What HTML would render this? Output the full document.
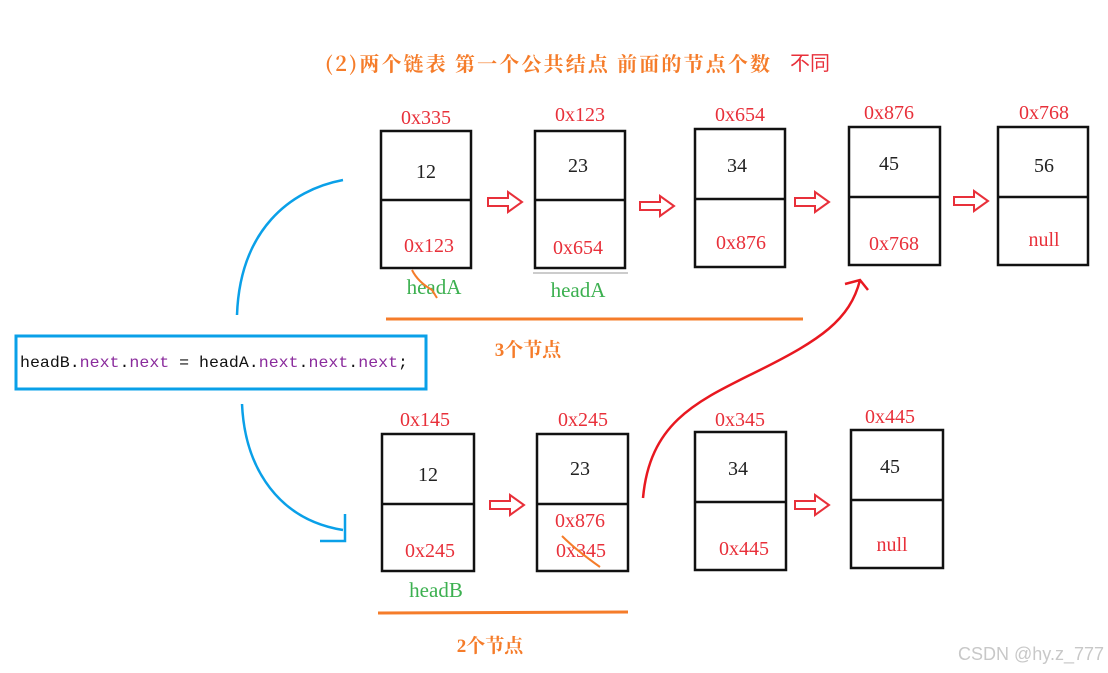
<!DOCTYPE html>
<html><head><meta charset="utf-8"><style>
body{margin:0;background:#fff}
svg{display:block}
.a{font-family:"Liberation Serif","Noto Serif CJK SC",serif;font-size:20px;fill:#e8303a;text-anchor:middle}
.v{font-family:"Liberation Serif",serif;font-size:20px;fill:#222;text-anchor:middle}
.g{font-family:"Liberation Serif",serif;font-size:21px;fill:#3cb050;text-anchor:middle}
.o{font-family:"Liberation Serif","Noto Serif CJK SC",serif;font-size:19px;fill:#f57c2a;text-anchor:middle;font-weight:bold}
rect.b{fill:none;stroke:#111;stroke-width:2.5}
</style></head><body>
<svg width="1108" height="673" xmlns="http://www.w3.org/2000/svg">
<defs>
<g id="arr"><path d="M0,-4 h20 v-6 l14,10 l-14,10 v-6 h-20 z" fill="none" stroke="#e8303a" stroke-width="2"/></g>
</defs>
<text x="325" y="71" font-family="'Noto Serif CJK SC',serif" font-size="20" font-weight="bold" fill="#f57c2a" textLength="445" lengthAdjust="spacing">(2)两个链表  第一个公共结点  前面的节点个数</text>
<text x="790" y="70" font-family="'Noto Sans CJK SC',sans-serif" font-size="20" fill="#e8303a">不同</text>

<rect class="b" x="381" y="131" width="90" height="137"/><line x1="381" y1="200" x2="471" y2="200" stroke="#111" stroke-width="2.5"/>
<text class="a" x="426" y="124">0x335</text><text class="v" x="426" y="178">12</text><text class="a" x="429" y="252">0x123</text>
<rect class="b" x="535" y="131" width="90" height="137"/><line x1="535" y1="200" x2="625" y2="200" stroke="#111" stroke-width="2.5"/>
<text class="a" x="580" y="121">0x123</text><text class="v" x="578" y="172">23</text><text class="a" x="578" y="254">0x654</text>
<rect class="b" x="695" y="129" width="90" height="138"/><line x1="695" y1="199" x2="785" y2="199" stroke="#111" stroke-width="2.5"/>
<text class="a" x="740" y="121">0x654</text><text class="v" x="737" y="172">34</text><text class="a" x="741" y="249">0x876</text>
<rect class="b" x="849" y="127" width="91" height="138"/><line x1="849" y1="197" x2="940" y2="197" stroke="#111" stroke-width="2.5"/>
<text class="a" x="889" y="119">0x876</text><text class="v" x="889" y="170">45</text><text class="a" x="894" y="250">0x768</text>
<rect class="b" x="998" y="127" width="90" height="138"/><line x1="998" y1="197" x2="1088" y2="197" stroke="#111" stroke-width="2.5"/>
<text class="a" x="1044" y="119">0x768</text><text class="v" x="1044" y="172">56</text><text class="a" x="1044" y="246">null</text>
<use href="#arr" x="488" y="202"/><use href="#arr" x="640" y="206"/><use href="#arr" x="795" y="202"/><use href="#arr" x="954" y="201"/>
<text class="g" x="434" y="294">headA</text><text class="g" x="578" y="297">headA</text>
<line x1="533" y1="273" x2="628" y2="273" stroke="#999" stroke-width="1"/>
<path d="M412,270 q6,12 20,20 l5,8" fill="none" stroke="#f57c2a" stroke-width="2"/>
<line x1="386" y1="319" x2="803" y2="319" stroke="#f57c2a" stroke-width="3"/>
<text class="o" x="528" y="356">3个节点</text>

<rect x="16" y="336" width="410" height="53" fill="none" stroke="#0aa0e8" stroke-width="3"/>
<text x="20" y="367" font-family="'Liberation Mono',monospace" font-size="16" fill="#111" textLength="388" lengthAdjust="spacingAndGlyphs">headB.<tspan fill="#8a2b9c">next</tspan>.<tspan fill="#8a2b9c">next</tspan> = headA.<tspan fill="#8a2b9c">next</tspan>.<tspan fill="#8a2b9c">next</tspan>.<tspan fill="#8a2b9c">next</tspan>;</text>

<path d="M343,180 C290,190 240,230 237,315" fill="none" stroke="#0aa0e8" stroke-width="2.5"/>
<path d="M242,404 C245,470 280,520 343,530 M345,514 v27 h-25" fill="none" stroke="#0aa0e8" stroke-width="2.5"/>

<rect class="b" x="382" y="434" width="92" height="137"/><line x1="382" y1="504" x2="474" y2="504" stroke="#111" stroke-width="2.5"/>
<text class="a" x="425" y="426">0x145</text><text class="v" x="428" y="481">12</text><text class="a" x="430" y="557">0x245</text>
<rect class="b" x="537" y="434" width="91" height="137"/><line x1="537" y1="504" x2="628" y2="504" stroke="#111" stroke-width="2.5"/>
<text class="a" x="583" y="426">0x245</text><text class="v" x="580" y="475">23</text>
<text class="a" x="580" y="527">0x876</text><text class="a" x="581" y="557">0x345</text>
<path d="M562,536 q14,14 38,31" fill="none" stroke="#f57c2a" stroke-width="2"/>
<rect class="b" x="695" y="432" width="91" height="138"/><line x1="695" y1="502" x2="786" y2="502" stroke="#111" stroke-width="2.5"/>
<text class="a" x="740" y="426">0x345</text><text class="v" x="738" y="475">34</text><text class="a" x="744" y="555">0x445</text>
<rect class="b" x="851" y="430" width="92" height="138"/><line x1="851" y1="500" x2="943" y2="500" stroke="#111" stroke-width="2.5"/>
<text class="a" x="890" y="423">0x445</text><text class="v" x="890" y="473">45</text><text class="a" x="892" y="551">null</text>
<use href="#arr" x="490" y="505"/><use href="#arr" x="795" y="505"/>
<text class="g" x="436" y="597">headB</text>
<path d="M378,613 L628,612" stroke="#f57c2a" stroke-width="3"/>
<text class="o" x="490" y="652">2个节点</text>

<path d="M643,498 C650,420 700,400 760,370 C820,340 850,320 860,280 M845,284 l15,-4 l8,10" fill="none" stroke="#e81820" stroke-width="2.5"/>

<text x="1104" y="660" text-anchor="end" font-family="'Liberation Sans',sans-serif" font-size="18" fill="#c8c8c8">CSDN @hy.z_777</text>
</svg>
</body></html>
